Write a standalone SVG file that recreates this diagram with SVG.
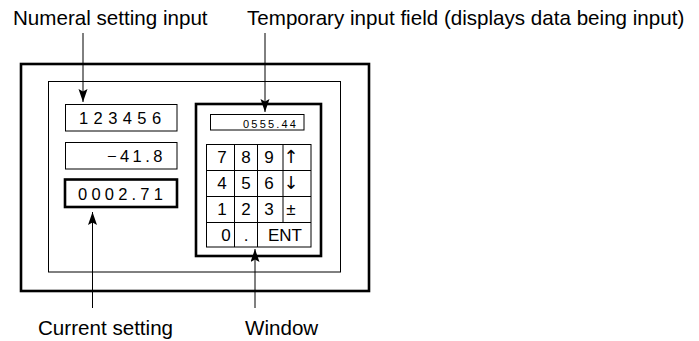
<svg xmlns="http://www.w3.org/2000/svg" width="699" height="341" viewBox="0 0 699 341">
<style>
  .lbl { font-family: "Liberation Sans", Arial, sans-serif; font-size: 20.6px; fill: #000; }
  .num { font-family: "Liberation Sans", Arial, sans-serif; font-size: 16.5px; fill: #000; }
  .key { font-family: "Liberation Sans", Arial, sans-serif; font-size: 17px; fill: #000; text-anchor: middle; }
  .arrk { font-family: "DejaVu Sans", sans-serif; font-size: 18px; fill: #000; text-anchor: middle; }
  .tmp { font-family: "Liberation Sans", Arial, sans-serif; font-size: 11px; fill: #000; }
  .thin { fill: none; stroke: #000; stroke-width: 1; }
  .thick { fill: none; stroke: #000; stroke-width: 2.6; }
  .conn { stroke: #000; stroke-width: 1; fill: none; marker-end: url(#arr); }
</style>
<defs>
  <marker id="arr" markerUnits="userSpaceOnUse" markerWidth="14" markerHeight="10" refX="13" refY="4.5" orient="auto">
    <path d="M0,0 L13,4.5 L0,9 L2.5,4.5 z" fill="#000"/>
  </marker>
</defs>
<rect width="699" height="341" fill="#fff"/>

<g id="panel">
  <rect class="thick" x="21" y="64" width="348" height="227"/>
  <rect class="thin" x="48.5" y="81.5" width="292" height="190.5"/>
</g>

<g id="numeral-box">
  <rect class="thin" x="65.5" y="104.5" width="111.5" height="26.5"/>
  <text class="num" x="79" y="124" letter-spacing="5.4">123456</text>
</g>
<g id="value-box">
  <rect class="thin" x="65.5" y="142.5" width="111.5" height="26.5"/>
  <text class="num" x="107" y="162" letter-spacing="3.4">−41.8</text>
</g>
<g id="current-box">
  <rect class="thick" x="65" y="179.5" width="112" height="27.5" stroke-width="3"/>
  <text class="num" x="78" y="200" letter-spacing="4.2">0002.71</text>
</g>

<g id="window">
  <rect class="thick" x="196" y="104" width="125" height="152"/>
  <g id="temp-field">
    <rect class="thin" x="210.5" y="114.5" width="93.5" height="15.5"/>
    <text class="tmp" x="243" y="128" letter-spacing="2.2">0555.44</text>
  </g>
  <g id="keypad">
    <rect class="thin" x="206.5" y="144.5" width="104.5" height="102.5"/>
    <path class="thin" d="M206.5,170.5 H311 M206.5,196.5 H311 M206.5,222.5 H311 M234.5,144.5 V247 M257.5,144.5 V247 M283,144.5 V222.5"/>
    <text class="key" x="222" y="163">7</text>
    <text class="key" x="246" y="163">8</text>
    <text class="key" x="269" y="163">9</text>
    <text class="arrk" x="291" y="163">↑</text>
    <text class="key" x="222" y="189">4</text>
    <text class="key" x="246" y="189">5</text>
    <text class="key" x="269" y="189">6</text>
    <text class="arrk" x="291" y="189">↓</text>
    <text class="key" x="222" y="215">1</text>
    <text class="key" x="246" y="215">2</text>
    <text class="key" x="269" y="215">3</text>
    <text class="key" x="291" y="215">±</text>
    <text class="key" x="226" y="241">0</text>
    <text class="key" x="246" y="241">.</text>
    <text class="key" x="285" y="241">ENT</text>
  </g>
</g>

<g id="labels">
  <text class="lbl" x="13" y="25">Numeral setting input</text>
  <text class="lbl" x="247" y="25">Temporary input field (displays data being input)</text>
  <text class="lbl" x="38" y="335">Current setting</text>
  <text class="lbl" x="245" y="335">Window</text>
</g>

<g id="connectors">
  <line class="conn" x1="83" y1="33" x2="83" y2="102"/>
  <line class="conn" x1="265" y1="33" x2="265" y2="112"/>
  <line class="conn" x1="92.5" y1="308" x2="92.5" y2="212"/>
  <line class="conn" x1="255" y1="308" x2="255" y2="249"/>
</g>
</svg>
